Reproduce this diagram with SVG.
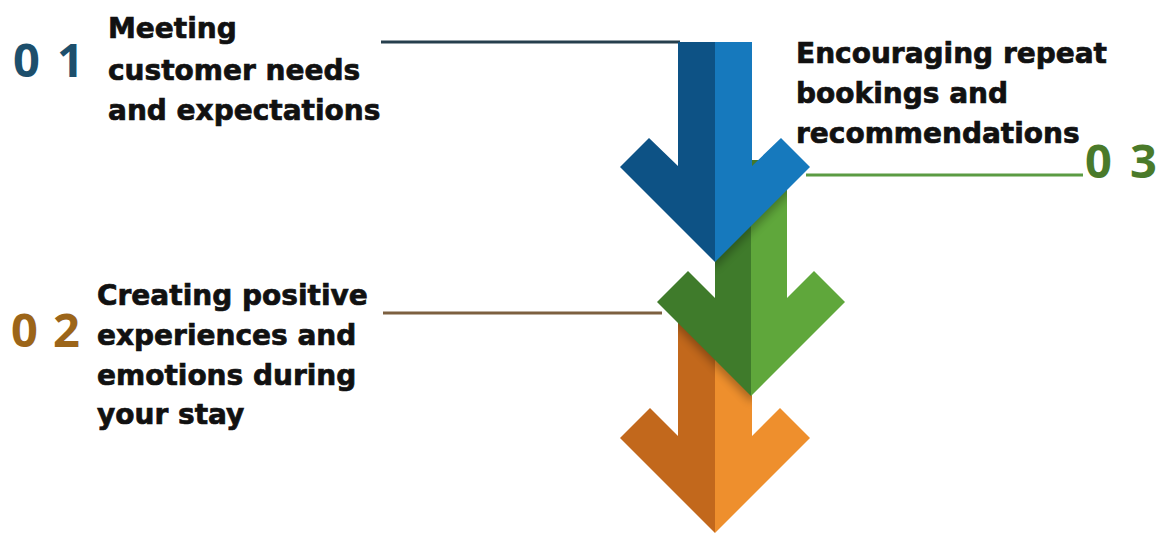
<svg xmlns="http://www.w3.org/2000/svg" width="1156" height="535" viewBox="0 0 1156 535">
  <style>
    .label { font-family: "DejaVu Sans", "Liberation Sans", sans-serif; font-weight: bold; font-size: 28px; fill: #111111; stroke: #111111; stroke-width: 0.7; }
    .num { font-family: "Open Sans", "Liberation Sans", sans-serif; font-weight: bold; font-size: 47px; }
    .lead { fill: none; stroke-width: 3; stroke-linecap: butt; }
    .shade { fill: #000000; opacity: 0.28; }
  </style>
  <defs>
    <filter id="soft" x="-20%" y="-20%" width="140%" height="140%">
      <feGaussianBlur stdDeviation="4"/>
    </filter>
    <clipPath id="clip-green">
      <polygon points="715,160 787,160 787,298 814,271 845,302 751,396 657,302 688,271 715,298"/>
    </clipPath>
    <clipPath id="clip-orange">
      <polygon points="678,300 752,300 752,436 780,408 810,438 715,533 620,438 650,408 678,436"/>
    </clipPath>
  </defs>
  <rect width="1156" height="535" fill="#ffffff"/>

  <!-- leader lines from each label to its arrow -->
  <g id="connectors">
    <line class="lead" x1="381" y1="42" x2="680" y2="42" stroke="#263f4d"/>
    <line class="lead" x1="383" y1="313" x2="662" y2="313" stroke="#7d6040"/>
    <line class="lead" x1="806" y1="175" x2="1083" y2="175" stroke="#5b9b43"/>
  </g>

  <!-- orange arrow (bottom of the stack) -->
  <g id="arrow-orange">
    <polygon points="678,300 715,300 715,533 620,438 650,408 678,436" fill="#c2681c"/>
    <polygon points="715,300 752,300 752,436 780,408 810,438 715,533" fill="#ee8f2d"/>
    <g clip-path="url(#clip-orange)">
      <polygon class="shade" filter="url(#soft)" points="657,308 751,402 845,308 845,250 657,250"/>
    </g>
  </g>

  <!-- green arrow (middle) -->
  <g id="arrow-green">
    <polygon points="715,160 751,160 751,396 657,302 688,271 715,298" fill="#3f7b2b"/>
    <polygon points="751,160 787,160 787,298 814,271 845,302 751,396" fill="#5fa73b"/>
    <g clip-path="url(#clip-green)">
      <polygon class="shade" filter="url(#soft)" points="620,173 715,268 810,173 810,120 620,120"/>
    </g>
  </g>

  <!-- blue arrow (top) -->
  <g id="arrow-blue">
    <polygon points="678,42 715,42 715,262 620,167 649,138 678,166" fill="#0d5285"/>
    <polygon points="715,42 752,42 752,166 781,138 810,167 715,262" fill="#1679bd"/>
  </g>

  <g id="node-01">
    <text class="num" x="13 40 57" y="77" fill="#1d4f6c">0 1</text>
    <text class="label" x="108" y="38">Meeting</text>
    <text class="label" x="108" y="80">customer needs</text>
    <text class="label" x="108" y="120">and expectations</text>
  </g>

  <g id="node-02">
    <text class="num" x="11 38 53" y="347" fill="#9c6519">0 2</text>
    <text class="label" x="97" y="305">Creating positive</text>
    <text class="label" x="97" y="345">experiences and</text>
    <text class="label" x="97" y="385">emotions during</text>
    <text class="label" x="97" y="424">your stay</text>
  </g>

  <g id="node-03">
    <text class="num" x="1085 1110 1130" y="178" fill="#4a7a2a" font-size="43">0 3</text>
    <text class="label" x="796" y="63">Encouraging repeat</text>
    <text class="label" x="796" y="103">bookings and</text>
    <text class="label" x="796" y="143">recommendations</text>
  </g>
</svg>
